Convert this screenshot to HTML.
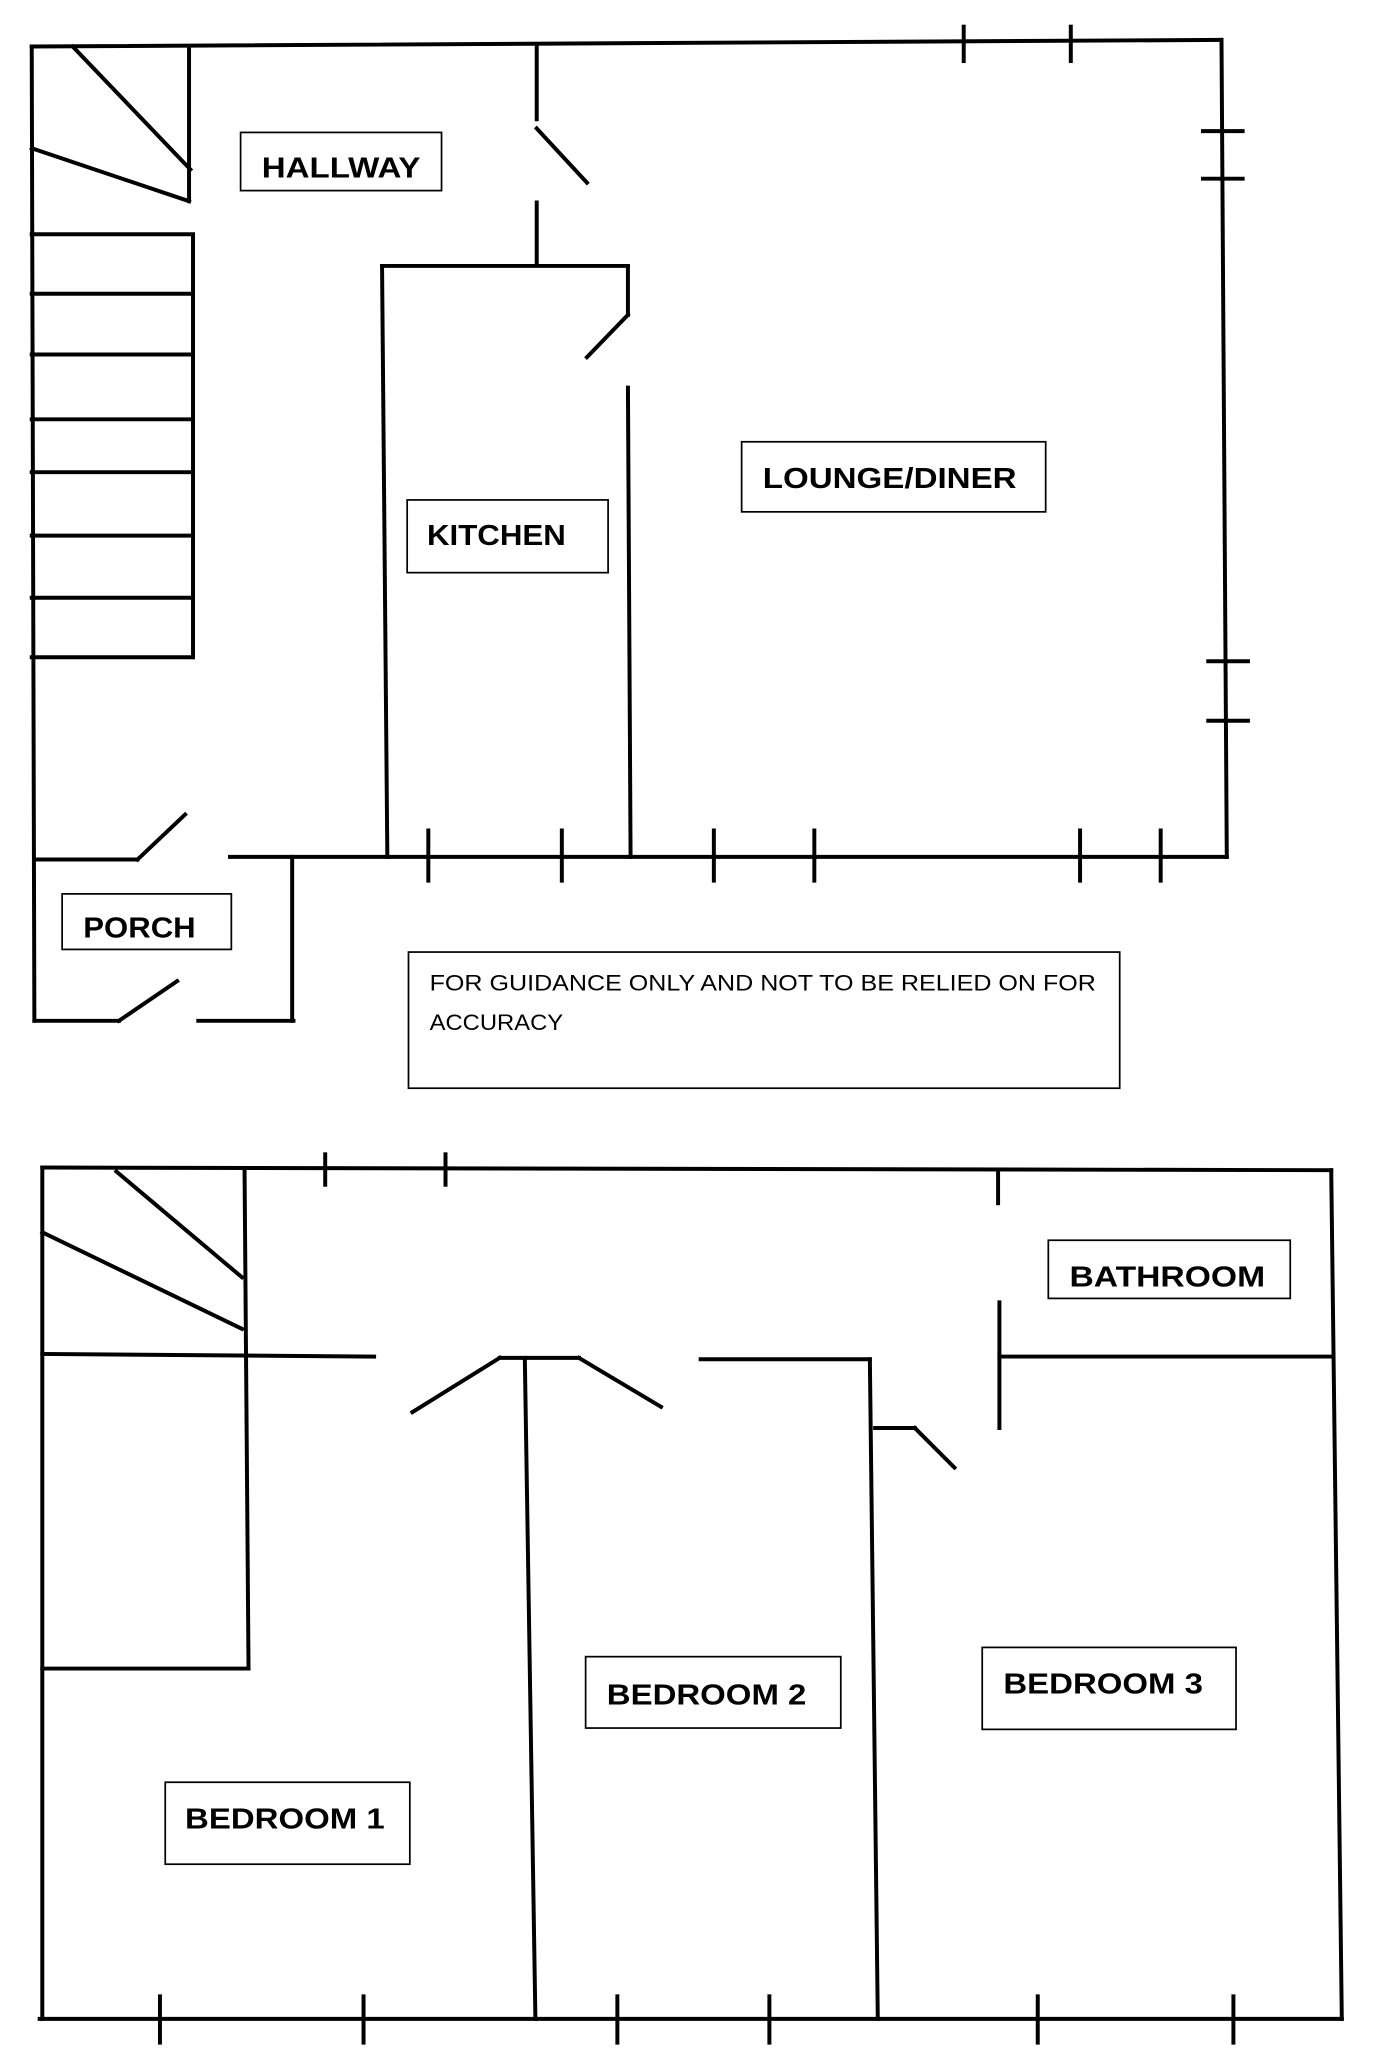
<!DOCTYPE html>
<html><head><meta charset="utf-8"><style>
html,body{margin:0;padding:0;background:#fff;}
svg{display:block;}
text{font-family:"Liberation Sans",sans-serif;}
</style></head><body>
<svg width="1396" height="2072" viewBox="0 0 1056 1567" xmlns="http://www.w3.org/2000/svg">
<g stroke="#000" stroke-width="3" fill="none" stroke-linecap="square">
<line x1="24" y1="35" x2="924" y2="30"/>
<line x1="24" y1="35" x2="26" y2="772"/>
<line x1="924" y1="30" x2="928" y2="648"/>
<line x1="174" y1="648" x2="928" y2="648"/>
<line x1="729" y1="20" x2="729" y2="46"/><line x1="810" y1="20" x2="810" y2="46"/>
<line x1="910" y1="99" x2="940" y2="99"/><line x1="910" y1="135" x2="940" y2="135"/>
<line x1="914" y1="500" x2="944" y2="500"/><line x1="914" y1="545" x2="944" y2="545"/>
<line x1="324" y1="628" x2="324" y2="666"/><line x1="425" y1="628" x2="425" y2="666"/>
<line x1="540" y1="628" x2="540" y2="666"/><line x1="616" y1="628" x2="616" y2="666"/>
<line x1="817" y1="628" x2="817" y2="666"/><line x1="878" y1="628" x2="878" y2="666"/>
<line x1="55" y1="35" x2="144" y2="128"/>
<line x1="24" y1="112" x2="143" y2="152"/>
<line x1="143" y1="35" x2="143" y2="152"/>
<line x1="146" y1="177" x2="146" y2="497"/>
<line x1="24" y1="177" x2="143" y2="177"/><line x1="24" y1="222" x2="143" y2="222"/>
<line x1="24" y1="268" x2="143" y2="268"/><line x1="24" y1="317" x2="143" y2="317"/>
<line x1="24" y1="357" x2="143" y2="357"/><line x1="24" y1="405" x2="143" y2="405"/>
<line x1="24" y1="452" x2="143" y2="452"/><line x1="24" y1="497" x2="146" y2="497"/>
<line x1="406" y1="35" x2="406" y2="90"/>
<line x1="406" y1="97" x2="444" y2="138"/>
<line x1="406" y1="153" x2="406" y2="200"/>
<line x1="289" y1="201" x2="475" y2="201"/>
<line x1="289" y1="201" x2="293" y2="648"/>
<line x1="475" y1="201" x2="475" y2="238"/>
<line x1="475" y1="238" x2="444" y2="270"/>
<line x1="475" y1="293" x2="477" y2="648"/>
<line x1="28" y1="650" x2="104" y2="650"/>
<line x1="104" y1="650" x2="140" y2="616"/>
<line x1="221" y1="648" x2="221" y2="772"/>
<line x1="26" y1="772" x2="90" y2="772"/>
<line x1="90" y1="772" x2="134" y2="742"/>
<line x1="150" y1="772" x2="222" y2="772"/>
<line x1="32" y1="883" x2="1007" y2="885"/>
<line x1="32" y1="883" x2="32" y2="1527"/>
<line x1="1007" y1="885" x2="1015" y2="1527"/>
<line x1="30" y1="1527" x2="1015" y2="1527"/>
<line x1="246" y1="873" x2="246" y2="896"/><line x1="337" y1="873" x2="337" y2="896"/>
<line x1="755" y1="887" x2="755" y2="910"/>
<line x1="121" y1="1510" x2="121" y2="1545"/><line x1="275" y1="1510" x2="275" y2="1545"/>
<line x1="467" y1="1510" x2="467" y2="1545"/><line x1="582" y1="1510" x2="582" y2="1545"/>
<line x1="785" y1="1510" x2="785" y2="1545"/><line x1="933" y1="1510" x2="933" y2="1545"/>
<line x1="185" y1="886" x2="188" y2="1262"/>
<line x1="88" y1="886" x2="183" y2="966"/>
<line x1="32" y1="932" x2="183" y2="1005"/>
<line x1="32" y1="1024" x2="283" y2="1026"/>
<line x1="32" y1="1262" x2="188" y2="1262"/>
<line x1="312" y1="1068" x2="378" y2="1027"/>
<line x1="378" y1="1027" x2="438" y2="1027"/>
<line x1="438" y1="1027" x2="500" y2="1064"/>
<line x1="397" y1="1027" x2="405" y2="1527"/>
<line x1="530" y1="1028" x2="658" y2="1028"/>
<line x1="658" y1="1028" x2="664" y2="1527"/>
<line x1="662" y1="1080" x2="692" y2="1080"/>
<line x1="692" y1="1080" x2="722" y2="1110"/>
<line x1="756" y1="985" x2="756" y2="1080"/>
<line x1="756" y1="1026" x2="1007" y2="1026"/>
</g>
<g stroke="#000" stroke-width="1.3" fill="#fff">
<rect x="182" y="100" width="152" height="44"/>
<rect x="561" y="334" width="230" height="53"/>
<rect x="308" y="378" width="152" height="55"/>
<rect x="47" y="676" width="128" height="42"/>
<rect x="309" y="720" width="538" height="103"/>
<rect x="793" y="938" width="183" height="44"/>
<rect x="443" y="1253" width="193" height="54"/>
<rect x="743" y="1246" width="192" height="62"/>
<rect x="125" y="1348" width="185" height="62"/>
</g>
<g font-weight="bold" font-size="22" fill="#000" lengthAdjust="spacingAndGlyphs">
<text x="198" y="134" textLength="120" lengthAdjust="spacingAndGlyphs">HALLWAY</text>
<text x="577" y="369" textLength="192" lengthAdjust="spacingAndGlyphs">LOUNGE/DINER</text>
<text x="323" y="412" textLength="105" lengthAdjust="spacingAndGlyphs">KITCHEN</text>
<text x="63" y="709" textLength="85" lengthAdjust="spacingAndGlyphs">PORCH</text>
<text x="809" y="973" textLength="148" lengthAdjust="spacingAndGlyphs">BATHROOM</text>
<text x="459" y="1289" textLength="151" lengthAdjust="spacingAndGlyphs">BEDROOM 2</text>
<text x="759" y="1281" textLength="151" lengthAdjust="spacingAndGlyphs">BEDROOM 3</text>
<text x="140" y="1383" textLength="151" lengthAdjust="spacingAndGlyphs">BEDROOM 1</text>
</g>
<g font-size="17" fill="#000">
<text x="325" y="749" textLength="504" lengthAdjust="spacingAndGlyphs">FOR GUIDANCE ONLY AND NOT TO BE RELIED ON FOR</text>
<text x="325" y="779" textLength="101" lengthAdjust="spacingAndGlyphs">ACCURACY</text>
</g>
</svg>
</body></html>
